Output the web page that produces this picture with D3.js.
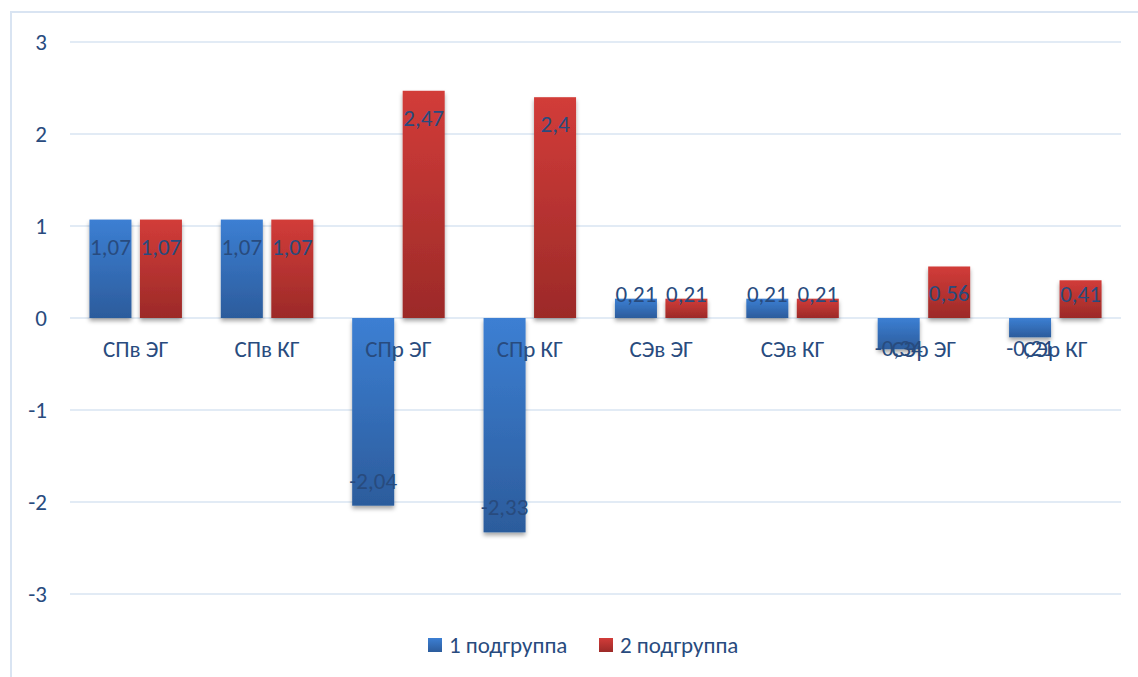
<!DOCTYPE html>
<html>
<head>
<meta charset="utf-8">
<script src="https://cdn.jsdelivr.net/npm/d3@7"></script>
<style>
  html, body { margin: 0; padding: 0; background: #ffffff; }
  svg { display: block; }
  text { font-family: Carlito, Lato, "Noto Sans", sans-serif; }
</style>
</head>
<body>
<svg id="chart" width="1138" height="677"></svg>
<script>
const categories = ["СПв ЭГ", "СПв КГ", "СПр ЭГ", "СПр КГ", "СЭв ЭГ", "СЭв КГ", "СЭр ЭГ", "СЭр КГ"];
const seriesNames = ["1 подгруппа", "2 подгруппа"];
const series1 = [1.07, 1.07, -2.04, -2.33, 0.21, 0.21, -0.34, -0.21];
const series2 = [1.07, 1.07, 2.47, 2.4, 0.21, 0.21, 0.56, 0.41];
const yTicks = [-3, -2, -1, 0, 1, 2, 3];

const seriesValues = [series1, series2];
const colors = [
  { top: "#3c7fd3", bottom: "#2c5c9c", key: "blue" },
  { top: "#d23c39", bottom: "#9c2a28", key: "red" }
];
const textColor = "#284b7e";
const fontSize = 23;

const svg = d3.select("#chart");
const W = 1138, H = 677;
const plot = { left: 70, right: 1121, top: 42, bottom: 594 };

// outer border
svg.append("rect")
  .attr("x", 11).attr("y", 12)
  .attr("width", W + 20).attr("height", H + 20)
  .attr("fill", "#ffffff")
  .attr("stroke", "#d9e4f2").attr("stroke-width", 2);

const defs = svg.append("defs");
colors.forEach(c => {
  const g = defs.append("linearGradient")
    .attr("id", "grad-" + c.key)
    .attr("x1", 0).attr("y1", 0).attr("x2", 0).attr("y2", 1);
  g.append("stop").attr("offset", "0%").attr("stop-color", c.top);
  g.append("stop").attr("offset", "100%").attr("stop-color", c.bottom);
});
const f = defs.append("filter").attr("id", "shadow")
  .attr("x", "-20%").attr("y", "-20%").attr("width", "140%").attr("height", "160%");
f.append("feDropShadow").attr("dx", 0).attr("dy", 3).attr("stdDeviation", 2)
  .attr("flood-color", "#000").attr("flood-opacity", 0.35);

const y = d3.scaleLinear().domain([-3, 3]).range([plot.bottom, plot.top]);
const x0 = d3.scaleBand().domain(categories).range([plot.left, plot.right]).padding(0);
const x1 = d3.scaleBand().domain(d3.range(seriesNames.length))
  .range([0, x0.bandwidth()]).paddingInner(0.168).paddingOuter(0.385);

// gridlines
svg.append("g").selectAll("line").data(yTicks).join("line")
  .attr("x1", plot.left).attr("x2", plot.right)
  .attr("y1", d => y(d)).attr("y2", d => y(d))
  .attr("stroke", "#d9e4f2").attr("stroke-width", 1.6);

// y tick labels
svg.append("g").selectAll("text").data(yTicks).join("text")
  .attr("x", 47).attr("y", d => y(d))
  .attr("text-anchor", "end").attr("dominant-baseline", "central")
  .attr("font-size", fontSize).attr("fill", textColor)
  .text(d => d);

// bars
const bars = [];
categories.forEach((cat, i) => {
  seriesValues.forEach((vals, s) => {
    bars.push({ cat, s, v: vals[i] });
  });
});

svg.append("g").selectAll("rect").data(bars).join("rect")
  .attr("x", d => x0(d.cat) + x1(d.s))
  .attr("width", x1.bandwidth())
  .attr("y", d => y(Math.max(0, d.v)))
  .attr("height", d => Math.abs(y(d.v) - y(0)))
  .attr("fill", d => `url(#grad-${colors[d.s].key})`)
  .attr("filter", "url(#shadow)");

// category labels
svg.append("g").selectAll("text").data(categories).join("text")
  .attr("x", d => x0(d) + x0.bandwidth() / 2)
  .attr("y", y(0) + 31)
  .attr("text-anchor", "middle").attr("dominant-baseline", "central")
  .attr("font-size", fontSize).attr("fill", textColor)
  .text(d => d);

// value labels (inside end)
const fmt = v => String(v).replace(".", ",");
svg.append("g").selectAll("text").data(bars).join("text")
  .attr("x", d => x0(d.cat) + x1(d.s) + x1.bandwidth() / 2)
  .attr("y", d => d.v >= 0
      ? Math.min(y(d.v) + 27, y(0) - 24)
      : Math.max(y(d.v) - 25, y(0) + 30))
  .attr("text-anchor", "middle").attr("dominant-baseline", "central")
  .attr("font-size", fontSize).attr("fill", textColor)
  .text(d => fmt(d.v));

// legend
const legend = svg.append("g");
const legendItems = seriesNames.map((n, i) => ({ n, i }));
const lx = [428, 599];
legendItems.forEach(d => {
  const g = legend.append("g").attr("transform", `translate(${lx[d.i]},645)`);
  g.append("rect").attr("x", 0).attr("y", -7).attr("width", 14).attr("height", 14)
    .attr("fill", `url(#grad-${colors[d.i].key})`);
  g.append("text").attr("x", 21).attr("y", 0)
    .attr("dominant-baseline", "central")
    .attr("font-size", fontSize).attr("fill", textColor)
    .text(d.n);
});
</script>
</body>
</html>
